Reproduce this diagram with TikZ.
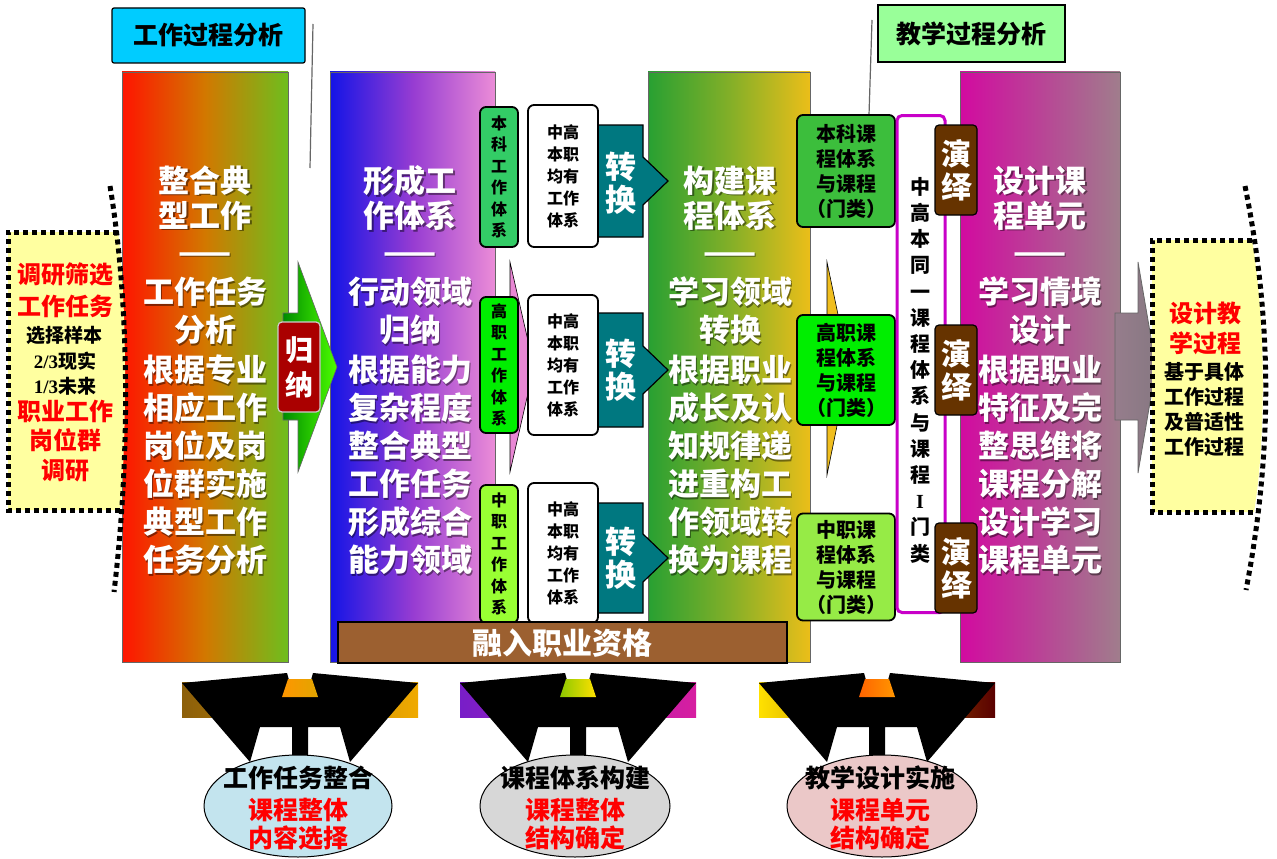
\documentclass[tikz,border=0pt]{standalone}
\usepackage{fontspec}
\setmainfont{Noto Sans CJK SC}
\newfontfamily\tnr{Liberation Serif}
\usetikzlibrary{shapes.geometric}
\definecolor{c1l}{RGB}{255,20,0}
\definecolor{c1m}{RGB}{210,120,0}
\definecolor{c1r}{RGB}{110,190,30}
\definecolor{c2l}{RGB}{20,20,230}
\definecolor{c2m}{RGB}{150,60,210}
\definecolor{c2r}{RGB}{235,140,215}
\definecolor{c3l}{RGB}{40,160,50}
\definecolor{c3m}{RGB}{130,175,40}
\definecolor{c3r}{RGB}{235,190,25}
\definecolor{c4l}{RGB}{210,10,160}
\definecolor{c4r}{RGB}{160,125,140}
\definecolor{ybox}{RGB}{255,255,160}
\definecolor{cyanbox}{RGB}{0,204,255}
\definecolor{lgbox}{RGB}{153,255,153}
\definecolor{gA}{RGB}{51,204,102}
\definecolor{gB}{RGB}{0,238,0}
\definecolor{gC}{RGB}{153,255,51}
\definecolor{rA}{RGB}{60,190,60}
\definecolor{rB}{RGB}{0,238,0}
\definecolor{rC}{RGB}{150,235,70}
\definecolor{teal2}{RGB}{0,120,128}
\definecolor{brownbar}{RGB}{156,96,48}
\definecolor{dbrown}{RGB}{102,51,0}
\definecolor{dred}{RGB}{170,0,0}
\definecolor{purp}{RGB}{200,0,200}
\definecolor{redtxt}{RGB}{255,0,0}
\definecolor{e1}{RGB}{195,228,238}
\definecolor{e2}{RGB}{215,215,215}
\definecolor{e3}{RGB}{235,200,200}
\tikzset{
  colbox/.style={draw=black!60, line width=0.8pt, inner sep=0pt},
  wtxt/.style={text=white, align=center, inner sep=0pt},
  shtxt/.style={text=black, opacity=0.45, align=center, inner sep=0pt},
  btxt/.style={text=black, align=center, inner sep=0pt, font=\bfseries},
  rbox/.style={draw=black, line width=1.8pt, rounded corners=6pt, inner sep=0pt},
  dots/.style={line width=5pt, dash pattern=on 5pt off 4pt, black},
  thinline/.style={draw=black!60, line width=1.2pt},
}
\newcommand\ctext[6]{%
  \node[shtxt,font=\bfseries\fontsize{#4}{#5}\selectfont] (#1s) at (#2+1.5,#3+1.5) {#6};
  \node[wtxt,font=\bfseries\fontsize{#4}{#5}\selectfont] (#1) at (#2,#3) {#6};}
\newcommand\myfunnel[5]{%
  \begin{scope}[shift={(#1,0)}]
    \fill[left color=#2, right color=#3] (-118,682) rectangle (118,717);
    \fill[black] (-118,683) -- (-13,673) -- (-11,680) -- (11,680) -- (13,673) -- (118,683)
      -- (50,762) -- (40,727) -- (8,727) -- (8,760) -- (-8,760) -- (-8,727)
      -- (-40,727) -- (-50,762) -- cycle;
    \fill[left color=#4, right color=#5] (-12,679) -- (12,679) -- (18,697) -- (-18,697) -- cycle;
  \end{scope}}
\begin{document}
\begin{tikzpicture}[x=1pt,y=-1pt]
\useasboundingbox (0,0) rectangle (1277,859);
\fill[white] (0,0) rectangle (1277,859);

% top labels
\node[draw=black, line width=1.2pt, fill=cyanbox, rounded corners=2pt, minimum width=193pt, minimum height=55pt, inner sep=0pt, font=\bfseries\fontsize{25}{30}\selectfont] (wpa) at (208.5,35.5) {工作过程分析};
\node[draw=black, line width=1.2pt, fill=lgbox, minimum width=187pt, minimum height=57pt, inner sep=0pt, font=\bfseries\fontsize{25}{30}\selectfont] (tpa) at (971.5,33.5) {教学过程分析};
\coordinate (l1a) at (313,24); \coordinate (l1b) at (310,168);
\coordinate (l2a) at (872,20); \coordinate (l2b) at (869,115);
\draw[thinline] (l1a) -- (l1b);
\draw[thinline] (l2a) -- (l2b);

% columns
\node[colbox, left color=c1l, right color=c1r, middle color=c1m, minimum width=166pt, minimum height=590pt] (col1) at (205,367) {};
\node[colbox, left color=c2l, right color=c2r, middle color=c2m, minimum width=165pt, minimum height=590pt] (col2) at (412.5,367) {};
\node[colbox, left color=c3l, right color=c3r, middle color=c3m, minimum width=162pt, minimum height=590pt] (col3) at (729,367) {};
\node[colbox, left color=c4l, right color=c4r, minimum width=160pt, minimum height=590pt] (col4) at (1040,367) {};

% arrows between columns
\draw[black!60, line width=0.6pt, left color=green!55!black, right color=green!70!yellow] (283,313) -- (298,313) -- (298,262) -- (337,367) -- (298,472) -- (298,420) -- (283,420) -- cycle;
\draw[black, line width=0.6pt, fill={rgb,255:red,232;green,135;blue,212}] (510,262) -- (534,367) -- (510,472) -- cycle;
\draw[black, line width=0.6pt, fill={rgb,255:red,240;green,190;blue,30}] (827,262) -- (849,367) -- (827,475) -- cycle;
\draw[black!60, line width=0.8pt, left color={rgb,255:red,150;green,125;blue,140}, right color={rgb,255:red,135;green,120;blue,130}] (1115,313) -- (1138,313) -- (1138,262) -- (1156,367) -- (1138,473) -- (1138,420) -- (1115,420) -- cycle;

% gui na box
\node[draw=white!80!black, line width=1.2pt, fill=dred, rounded corners=4pt, minimum width=42pt, minimum height=90pt, inner sep=0pt] (guina) at (299,367) {};
\node[wtxt, font=\bfseries\fontsize{28}{35}\selectfont] (guinat) at (299,367) {归\\纳};

% column texts
\ctext{t1a}{205}{198}{31}{35}{整合典\\型工作}
\ctext{t1b}{205}{258}{31}{35}{——}
\ctext{t1c}{205}{311}{31}{38}{工作任务\\分析}
\ctext{t1d}{205}{465}{31}{38}{根据专业\\相应工作\\岗位及岗\\位群实施\\典型工作\\任务分析}
\ctext{t2a}{410}{198}{31}{35}{形成工\\作体系}
\ctext{t2b}{410}{258}{31}{35}{——}
\ctext{t2c}{410}{311}{31}{38}{行动领域\\归纳}
\ctext{t2d}{410}{465}{31}{38}{根据能力\\复杂程度\\整合典型\\工作任务\\形成综合\\能力领域}
\ctext{t3a}{730}{198}{31}{35}{构建课\\程体系}
\ctext{t3b}{730}{258}{31}{35}{——}
\ctext{t3c}{730}{311}{31}{38}{学习领域\\转换}
\ctext{t3d}{730}{465}{31}{38}{根据职业\\成长及认\\知规律递\\进重构工\\作领域转\\换为课程}
\ctext{t4a}{1040}{198}{31}{35}{设计课\\程单元}
\ctext{t4b}{1040}{258}{31}{35}{——}
\ctext{t4c}{1040}{311}{31}{38}{学习情境\\设计}
\ctext{t4d}{1040}{465}{31}{38}{根据职业\\特征及完\\整思维将\\课程分解\\设计学习\\课程单元}

% teal conversion arrows
\draw[black, line width=1.2pt, fill=teal2] (590,125) -- (643,125) -- (643,157) -- (668,181) -- (643,205) -- (643,237) -- (590,237) -- cycle;
\draw[black, line width=1.2pt, fill=teal2] (590,313) -- (643,313) -- (643,346) -- (668,370) -- (643,394) -- (643,427) -- (590,427) -- cycle;
\draw[black, line width=1.2pt, fill=teal2] (590,503) -- (643,503) -- (643,534) -- (668,558) -- (643,582) -- (643,613) -- (590,613) -- cycle;
\node[wtxt, font=\bfseries\fontsize{31}{33}\selectfont] (zh1) at (621,183) {转\\换};
\node[wtxt, font=\bfseries\fontsize{31}{33}\selectfont] (zh2) at (621,370) {转\\换};
\node[wtxt, font=\bfseries\fontsize{31}{33}\selectfont] (zh3) at (621,558) {转\\换};

% left green work system boxes
\node[rbox, fill=gA, minimum width=38pt, minimum height=140pt, btxt, font=\bfseries\fontsize{16}{21.5}\selectfont] (ws1) at (499,177) {本\\科\\工\\作\\体\\系};
\node[rbox, fill=gB, minimum width=38pt, minimum height=136pt, btxt, font=\bfseries\fontsize{16}{21.5}\selectfont] (ws2) at (499,365) {高\\职\\工\\作\\体\\系};
\node[rbox, fill=gC, minimum width=38pt, minimum height=138pt, btxt, font=\bfseries\fontsize{16}{21.5}\selectfont] (ws3) at (499,554) {中\\职\\工\\作\\体\\系};

% white boxes
\node[rbox, fill=white, minimum width=70pt, minimum height=142pt, btxt, font=\bfseries\fontsize{16}{22}\selectfont] (wb1) at (563,176) {中高\\本职\\均有\\工作\\体系};
\node[rbox, fill=white, minimum width=70pt, minimum height=140pt, btxt, font=\bfseries\fontsize{16}{22}\selectfont] (wb2) at (563,365) {中高\\本职\\均有\\工作\\体系};
\node[rbox, fill=white, minimum width=70pt, minimum height=140pt, btxt, font=\bfseries\fontsize{16}{22}\selectfont] (wb3) at (563,553) {中高\\本职\\均有\\工作\\体系};

% brown bar
\node[draw=black, line width=1.5pt, fill=brownbar, minimum width=449pt, minimum height=41pt, inner sep=0pt] (bar) at (562.5,642.5) {};
\node[wtxt, font=\bfseries\fontsize{30}{32}\selectfont] (bart) at (562.5,643) {融入职业资格};

% right green course boxes
\node[rbox, fill=rA, minimum width=98pt, minimum height=112pt, btxt, font=\bfseries\fontsize{20}{25}\selectfont] (cs1) at (846,171) {本科课\\程体系\\与课程\\（门类）};
\node[rbox, fill=rB, minimum width=98pt, minimum height=110pt, btxt, font=\bfseries\fontsize{20}{25}\selectfont] (cs2) at (846,370) {高职课\\程体系\\与课程\\（门类）};
\node[rbox, fill=rC, minimum width=98pt, minimum height=107pt, btxt, font=\bfseries\fontsize{20}{25}\selectfont] (cs3) at (846,567) {中职课\\程体系\\与课程\\（门类）};

% purple box
\node[draw=purp, line width=3pt, fill=white, rounded corners=5pt, minimum width=48pt, minimum height=497pt, inner sep=0pt] (pb) at (921,364) {};
\node[btxt, font=\bfseries\fontsize{20}{26.2}\selectfont] (pbt) at (920,370) {中\\高\\本\\同\\一\\课\\程\\体\\系\\与\\课\\程\\{\tnr\bfseries I}\\门\\类};

% yan yi boxes
\node[draw=black, line width=1.2pt, fill=dbrown, rounded corners=4pt, minimum width=42pt, minimum height=90pt, inner sep=0pt, wtxt, font=\bfseries\fontsize{30}{33}\selectfont] (yy1) at (956,170) {演\\绎};
\node[draw=black, line width=1.2pt, fill=dbrown, rounded corners=4pt, minimum width=42pt, minimum height=90pt, inner sep=0pt, wtxt, font=\bfseries\fontsize{30}{33}\selectfont] (yy2) at (956,370) {演\\绎};
\node[draw=black, line width=1.2pt, fill=dbrown, rounded corners=4pt, minimum width=42pt, minimum height=90pt, inner sep=0pt, wtxt, font=\bfseries\fontsize{30}{33}\selectfont] (yy3) at (956,568) {演\\绎};

% left dotted box
\fill[ybox] (8,232) -- (118,232) .. controls (127,300) and (127,440) .. (120,510) -- (8,510) -- cycle;
\draw[dots] (118,232) -- (8,232) -- (8,510) -- (120,510);
\draw[dots] (110,186) .. controls (129,300) and (131,450) .. (114,592);
\node[btxt, text=redtxt, font=\bfseries\fontsize{24}{32}\selectfont] (lb1) at (65,290) {调研筛选\\工作任务};
\node[btxt, font=\bfseries\fontsize{19}{25.5}\selectfont] (lb2) at (65,361) {选择样本\\{\tnr\bfseries 2/3}现实\\{\tnr\bfseries 1/3}未来};
\node[btxt, text=redtxt, font=\bfseries\fontsize{24}{29.5}\selectfont] (lb3) at (65,441) {职业工作\\岗位群\\调研};

% right dotted box
\fill[ybox] (1152,240) -- (1252,240) .. controls (1266,320) and (1266,440) .. (1254,512) -- (1152,512) -- cycle;
\draw[dots] (1252,240) -- (1152,240) -- (1152,512) -- (1254,512);
\draw[dots] (1245,186) .. controls (1272,320) and (1273,450) .. (1246,590);
\node[btxt, text=redtxt, font=\bfseries\fontsize{24}{30}\selectfont] (rb1) at (1205,328) {设计教\\学过程};
\node[btxt, font=\bfseries\fontsize{20}{25}\selectfont] (rb2) at (1204,409) {基于具体\\工作过程\\及普适性\\工作过程};

% bottom funnels
\myfunnel{300}{{rgb,255:red,140;green,95;blue,10}}{{rgb,255:red,240;green,170;blue,0}}{{rgb,255:red,255;green,150;blue,0}}{{rgb,255:red,225;green,165;blue,0}}
\myfunnel{578}{{rgb,255:red,120;green,30;blue,200}}{{rgb,255:red,215;green,30;blue,160}}{{rgb,255:red,140;green,200;blue,0}}{{rgb,255:red,255;green,225;blue,0}}
\myfunnel{877}{{rgb,255:red,255;green,225;blue,0}}{{rgb,255:red,90;green,0;blue,0}}{{rgb,255:red,255;green,100;blue,0}}{{rgb,255:red,255;green,150;blue,0}}

% ellipses
\node[ellipse, draw=black, line width=1pt, fill=e1, minimum width=188pt, minimum height=102pt, inner sep=0pt] (el1) at (298,806) {};
\node[ellipse, draw=black, line width=1pt, fill=e2, minimum width=190pt, minimum height=102pt, inner sep=0pt] (el2) at (575,806) {};
\node[ellipse, draw=black, line width=1pt, fill=e3, minimum width=190pt, minimum height=102pt, inner sep=0pt] (el3) at (882,806) {};
\node[btxt, font=\bfseries\fontsize{25}{28}\selectfont] (el1a) at (298,778) {工作任务整合};
\node[btxt, text=redtxt, font=\bfseries\fontsize{25}{28}\selectfont] (el1b) at (298,824) {课程整体\\内容选择};
\node[btxt, font=\bfseries\fontsize{25}{28}\selectfont] (el2a) at (575,778) {课程体系构建};
\node[btxt, text=redtxt, font=\bfseries\fontsize{25}{28}\selectfont] (el2b) at (575,824) {课程整体\\结构确定};
\node[btxt, font=\bfseries\fontsize{25}{28}\selectfont] (el3a) at (880,778) {教学设计实施};
\node[btxt, text=redtxt, font=\bfseries\fontsize{25}{28}\selectfont] (el3b) at (880,824) {课程单元\\结构确定};
\end{tikzpicture}
\end{document}
